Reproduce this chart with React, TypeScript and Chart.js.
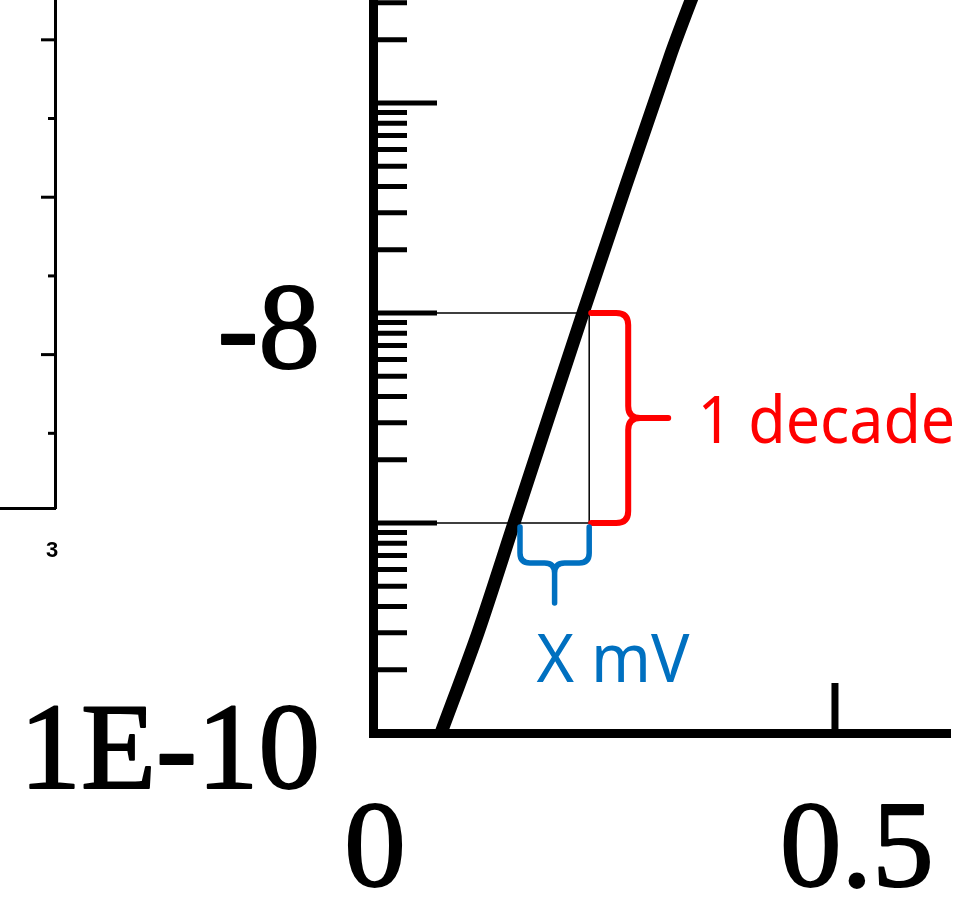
import { useEffect, useRef } from "react";
import { Chart, registerables } from "chart.js";

Chart.register(...registerables);

// Transfer curve: gate voltage (V) against drain current (A) on a log axis
const gateVoltage = [0.0736, 0.1136, 0.1526, 0.2273, 0.3214, 0.354];
const drainCurrent = [1e-10, 3e-10, 1e-9, 1e-8, 1.66e-7, 4.0e-7];

// One-decade read-out window
const decadeLower = 1e-9;
const decadeUpper = 1e-8;
const windowEdgeVoltage = 0.234;

// Axis ranges
const voltageMin = 0;
const voltageMax = 0.6245;
const currentMin = 1e-10;
const currentMax = 3.094e-7;

// Tick labels
const voltageTicks = [0, 0.5];
const voltageTickLabels = ["0", "0.5"];
const currentLabelTicks = [1e-8, 1e-10];
const currentTickLabels = ["-8", "1E-10"];

// Neighbouring panel at the left edge
const insetTicks = [1, 2, 3, 4, 5, 6];
const insetXMin = 2.5;
const insetXMax = 3;
const insetYMin = 0.051;
const insetYMax = 6.506;
const insetXLabel = "3";

// Annotation texts
const decadeLabel = "1 decade";
const swingLabel = "X mV";

const SERIF = '"Liberation Serif", "DejaVu Serif", serif';
const HAND = '"Noto Sans", "DejaVu Sans", sans-serif';
const RED = "#FF0000";
const BLUE = "#0070C0";

// Draws text whose ink spans exactly `width` pixels starting at `left`
function fitText(
  ctx: CanvasRenderingContext2D,
  text: string,
  left: number,
  baseline: number,
  width: number,
  font: string,
  color: string
) {
  ctx.save();
  ctx.font = font;
  ctx.fillStyle = color;
  ctx.textAlign = "left";
  ctx.textBaseline = "alphabetic";
  const m = ctx.measureText(text);
  const ink = m.actualBoundingBoxRight + m.actualBoundingBoxLeft;
  ctx.translate(left, baseline);
  ctx.scale(width / ink, 1);
  ctx.fillText(text, m.actualBoundingBoxLeft, 0);
  ctx.restore();
}

// Curly brace opening to the left, point on the right
function verticalBrace(ctx: CanvasRenderingContext2D, x0: number, yTop: number, yBot: number) {
  const r = 12;
  const xs = x0 + 37;
  const ym = (yTop + yBot) / 2;
  ctx.beginPath();
  ctx.moveTo(x0, yTop);
  ctx.lineTo(xs - r, yTop);
  ctx.quadraticCurveTo(xs, yTop, xs, yTop + r);
  ctx.lineTo(xs, ym - r);
  ctx.quadraticCurveTo(xs, ym, xs + r, ym);
  ctx.lineTo(x0 + 77, ym);
  ctx.moveTo(xs + r, ym);
  ctx.quadraticCurveTo(xs, ym, xs, ym + r);
  ctx.lineTo(xs, yBot - r);
  ctx.quadraticCurveTo(xs, yBot, xs - r, yBot);
  ctx.lineTo(x0, yBot);
  ctx.stroke();
}

// Curly brace opening upwards, point at the bottom
function horizontalBrace(ctx: CanvasRenderingContext2D, xl: number, xr: number, yTop: number) {
  const r = 10;
  const ys = yTop + 36;
  const xm = (xl + xr) / 2;
  ctx.beginPath();
  ctx.moveTo(xl, yTop);
  ctx.lineTo(xl, ys - r);
  ctx.quadraticCurveTo(xl, ys, xl + r, ys);
  ctx.lineTo(xm - r, ys);
  ctx.quadraticCurveTo(xm, ys, xm, ys + r);
  ctx.lineTo(xm, yTop + 76);
  ctx.moveTo(xr, yTop);
  ctx.lineTo(xr, ys - r);
  ctx.quadraticCurveTo(xr, ys, xr - r, ys);
  ctx.lineTo(xm + r, ys);
  ctx.quadraticCurveTo(xm, ys, xm, ys + r);
  ctx.stroke();
}

// Heavy serif label (filled and lightly outlined for a printed look)
function heavyLabel(ctx: CanvasRenderingContext2D, text: string, x: number, y: number) {
  ctx.fillText(text, x, y);
  ctx.strokeText(text, x, y);
}

const mainDecor = {
  id: "mainDecor",
  afterDraw(chart: any) {
    const { ctx, chartArea: a, scales } = chart;
    const xs = scales.x;
    const ys = scales.y;
    ctx.save();

    // inward ticks on the log axis: decades long, 2..9 short
    ctx.strokeStyle = "#000";
    ctx.lineCap = "butt";
    ctx.lineWidth = 5;
    for (let d = -10; d <= -7; d++) {
      for (let m = 1; m <= 9; m++) {
        const v = m * Math.pow(10, d);
        if (v <= currentMin * 1.0001 || v > currentMax) continue;
        const py = ys.getPixelForValue(v);
        const len = m === 1 ? 64 : 34;
        ctx.beginPath();
        ctx.moveTo(a.left, py);
        ctx.lineTo(a.left + len, py);
        ctx.stroke();
      }
    }

    // inward ticks on the voltage axis
    ctx.lineWidth = 7;
    for (const v of voltageTicks) {
      if (v <= voltageMin) continue;
      const px = xs.getPixelForValue(v);
      ctx.beginPath();
      ctx.moveTo(px, a.bottom);
      ctx.lineTo(px, a.bottom - 50);
      ctx.stroke();
    }

    // tick labels
    ctx.fillStyle = "#000";
    ctx.strokeStyle = "#000";
    ctx.lineWidth = 2;
    ctx.lineJoin = "round";
    ctx.font = `123px ${SERIF}`;
    ctx.textBaseline = "alphabetic";
    ctx.textAlign = "right";
    currentLabelTicks.forEach((v, i) => {
      heavyLabel(ctx, currentTickLabels[i], a.left - 53, ys.getPixelForValue(v) + 55);
    });
    ctx.textAlign = "center";
    const shifts = [2, 22];
    voltageTicks.forEach((v, i) => {
      heavyLabel(ctx, voltageTickLabels[i], xs.getPixelForValue(v) + shifts[i], a.bottom + 153);
    });

    // decade brace and label
    const boxRight = xs.getPixelForValue(windowEdgeVoltage);
    const yHi = ys.getPixelForValue(decadeUpper);
    const yLo = ys.getPixelForValue(decadeLower);
    ctx.lineCap = "round";
    ctx.lineJoin = "round";
    ctx.strokeStyle = RED;
    ctx.lineWidth = 6;
    verticalBrace(ctx, boxRight + 2, yHi, yLo);
    fitText(ctx, decadeLabel, boxRight + 113, (yHi + yLo) / 2 + 25, 250, `66px ${HAND}`, RED);

    // voltage-step brace and label
    const curveAtLower = xs.getPixelForValue(gateVoltage[drainCurrent.indexOf(decadeLower)]) + 6;
    const braceTop = yLo + 4;
    ctx.strokeStyle = BLUE;
    ctx.lineWidth = 5.5;
    horizontalBrace(ctx, curveAtLower, boxRight, braceTop);
    const xm = (curveAtLower + boxRight) / 2;
    fitText(ctx, swingLabel, xm - 18, braceTop + 155, 153, `68px ${HAND}`, BLUE);

    ctx.restore();
  },
};

const insetDecor = {
  id: "insetDecor",
  afterDraw(chart: any) {
    const { ctx, chartArea: a, scales } = chart;
    ctx.save();
    ctx.strokeStyle = "#000";
    ctx.lineWidth = 3;
    for (const v of insetTicks) {
      const py = scales.y.getPixelForValue(v);
      const len = v % 2 === 0 ? 14 : 7;
      ctx.beginPath();
      ctx.moveTo(a.right, py);
      ctx.lineTo(a.right - len, py);
      ctx.stroke();
    }
    ctx.fillStyle = "#000";
    ctx.font = 'bold 22px "Liberation Sans", Arial, sans-serif';
    ctx.textAlign = "center";
    ctx.textBaseline = "alphabetic";
    ctx.fillText(insetXLabel, scales.x.getPixelForValue(insetXMax) - 3, a.bottom + 49);
    ctx.restore();
  },
};

const hiddenAxis = (width: number) => ({
  grid: { display: false, drawTicks: false },
  ticks: { display: false },
  border: { display: true, color: "#000", width },
});

export default function App() {
  const mainRef = useRef<HTMLCanvasElement>(null);
  const insetRef = useRef<HTMLCanvasElement>(null);

  useEffect(() => {
    const curve = gateVoltage.map((v, i) => ({ x: v, y: drainCurrent[i] }));
    const window = [
      { x: voltageMin, y: decadeUpper },
      { x: windowEdgeVoltage, y: decadeUpper },
      { x: windowEdgeVoltage, y: decadeLower },
      { x: voltageMin, y: decadeLower },
    ];

    const main = new Chart(mainRef.current!, {
      type: "line",
      data: {
        datasets: [
          {
            data: curve,
            borderColor: "#000",
            borderWidth: 13,
            pointRadius: 0,
            tension: 0.3,
            fill: false,
          },
          {
            data: window,
            borderColor: "#000",
            borderWidth: 1.5,
            pointRadius: 0,
            tension: 0,
            fill: false,
          },
        ],
      },
      options: {
        responsive: false,
        animation: false,
        devicePixelRatio: 1,
        layout: { padding: { left: 373, right: 23, top: 0, bottom: 166 } },
        plugins: { legend: { display: false }, tooltip: { enabled: false } },
        scales: {
          x: { type: "linear", min: voltageMin, max: voltageMax, ...hiddenAxis(9) },
          y: { type: "logarithmic", min: currentMin, max: currentMax, ...hiddenAxis(9) },
        },
      },
      plugins: [mainDecor],
    } as any);

    const inset = new Chart(insetRef.current!, {
      type: "line",
      data: { datasets: [] },
      options: {
        responsive: false,
        animation: false,
        devicePixelRatio: 1,
        layout: { padding: { left: 0, right: 45, top: 0, bottom: 92 } },
        plugins: { legend: { display: false }, tooltip: { enabled: false } },
        scales: {
          x: { type: "linear", min: insetXMin, max: insetXMax, ...hiddenAxis(3) },
          y: { type: "linear", position: "right", min: insetYMin, max: insetYMax, ...hiddenAxis(3) },
        },
      },
      plugins: [insetDecor],
    } as any);

    return () => {
      main.destroy();
      inset.destroy();
    };
  }, []);

  return (
    <div
      style={{
        position: "fixed",
        left: 0,
        top: 0,
        width: 973,
        height: 899,
        background: "#fff",
        overflow: "hidden",
      }}
    >
      <canvas ref={insetRef} width={100} height={600} style={{ position: "absolute", left: 0, top: 0 }} />
      <canvas ref={mainRef} width={973} height={899} style={{ position: "absolute", left: 0, top: 0 }} />
    </div>
  );
}
